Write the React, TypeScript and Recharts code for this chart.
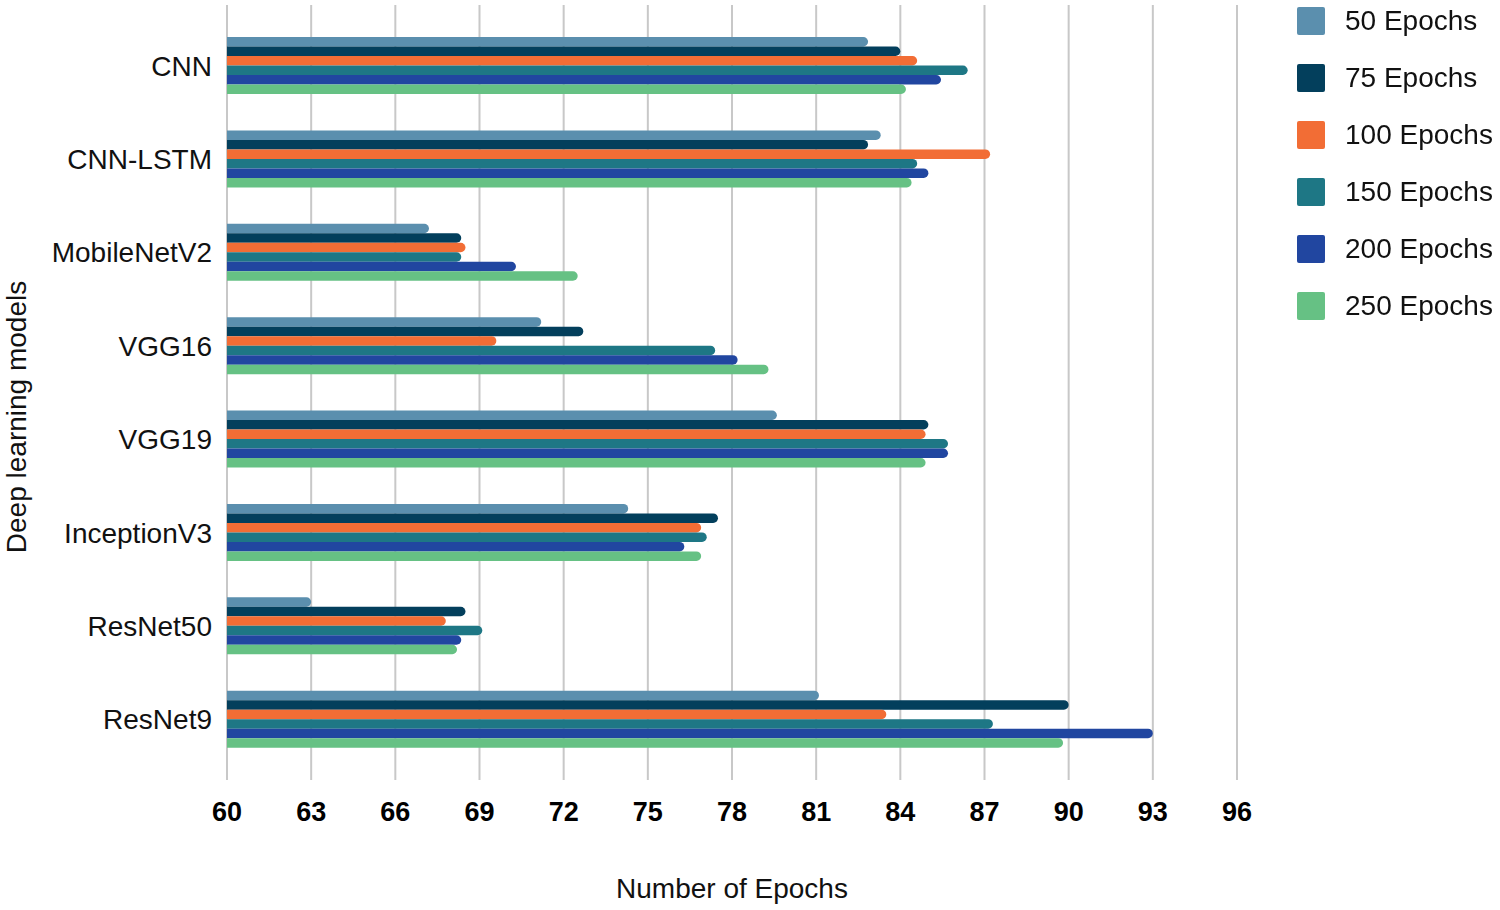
import React from 'react';
import { Bar, BarChart, CartesianGrid, XAxis, YAxis } from 'recharts';

const models = ['CNN', 'CNN-LSTM', 'MobileNetV2', 'VGG16', 'VGG19', 'InceptionV3', 'ResNet50', 'ResNet9'];

const epochs50 = [82.85, 83.3, 67.2, 71.2, 79.6, 74.3, 63.0, 81.1];
const epochs75 = [84.0, 82.85, 68.35, 72.7, 85.0, 77.5, 68.5, 90.0];
const epochs100 = [84.6, 87.2, 68.5, 69.6, 84.9, 76.9, 67.8, 83.5];
const epochs150 = [86.4, 84.6, 68.35, 77.4, 85.7, 77.1, 69.1, 87.3];
const epochs200 = [85.45, 85.0, 70.3, 78.2, 85.7, 76.3, 68.35, 93.0];
const epochs250 = [84.2, 84.4, 72.5, 79.3, 84.9, 76.9, 68.2, 89.8];

const xTicks = [60, 63, 66, 69, 72, 75, 78, 81, 84, 87, 90, 93, 96];

const series = [
  { key: 'e50', name: '50 Epochs', color: '#5b8fae', values: epochs50 },
  { key: 'e75', name: '75 Epochs', color: '#033f5c', values: epochs75 },
  { key: 'e100', name: '100 Epochs', color: '#f26d35', values: epochs100 },
  { key: 'e150', name: '150 Epochs', color: '#1e7785', values: epochs150 },
  { key: 'e200', name: '200 Epochs', color: '#2146a0', values: epochs200 },
  { key: 'e250', name: '250 Epochs', color: '#66c184', values: epochs250 },
];

const data = models.map((model, i) => {
  const row: Record<string, string | number> = { model };
  series.forEach((s) => {
    row[s.key] = s.values[i];
  });
  return row;
});

const FONT = '"Liberation Sans", Arial, sans-serif';

// legend drawn as plain html so it does not eat into the plot area
const LegendBox = () => (
  <div style={{ position: 'absolute', left: 1297, top: -8, fontFamily: FONT }}>
    {series.map((s) => (
      <div key={s.key} style={{ display: 'flex', alignItems: 'center', height: 57 }}>
        <div style={{ width: 28, height: 28, background: s.color, borderRadius: 2, marginRight: 20 }} />
        <span style={{ fontSize: 28, color: '#111' }}>{s.name}</span>
      </div>
    ))}
  </div>
);

const YTitle = () => (
  <text
    transform='translate(26, 417) rotate(-90)'
    textAnchor='middle'
    fontSize={28}
    fill='#111'
    fontFamily={FONT}
  >
    Deep learning models
  </text>
);

const XTitle = (props: any) => {
  const vb = props.viewBox || { x: 227, width: 1010 };
  return (
    <text x={vb.x + vb.width / 2} y={898} textAnchor='middle' fontSize={28} fill='#111' fontFamily={FONT}>
      Number of Epochs
    </text>
  );
};

export default function App() {
  return (
    <div style={{ position: 'fixed', left: 0, top: 0, width: 1500, height: 910, background: '#fff' }}>
      <BarChart
        width={1500}
        height={910}
        data={data}
        layout='vertical'
        margin={{ top: 5, right: 263, bottom: 100, left: 0 }}
        barCategoryGap={0}
        barGap={0}
        style={{ fontFamily: FONT }}
      >
        <CartesianGrid horizontal={false} stroke='#c8c8c8' strokeWidth={2} />
        <XAxis
          type='number'
          domain={[60, 96]}
          ticks={xTicks}
          interval={0}
          allowDataOverflow
          axisLine={false}
          tickLine={false}
          tickMargin={16}
          tick={{ fontSize: 27, fontWeight: 'bold', fill: '#000' }}
          label={<XTitle />}
        />
        <YAxis
          type='category'
          dataKey='model'
          width={227}
          axisLine={false}
          tickLine={false}
          tickMargin={9}
          padding={{ top: 14, bottom: 14 }}
          tick={{ fontSize: 28, fill: '#111' }}
          label={<YTitle />}
        />
        {series.map((s) => (
          <Bar
            key={s.key}
            dataKey={s.key}
            name={s.name}
            fill={s.color}
            barSize={9.5}
            radius={[0, 5, 5, 0]}
            isAnimationActive={false}
          />
        ))}
      </BarChart>
      <LegendBox />
    </div>
  );
}
